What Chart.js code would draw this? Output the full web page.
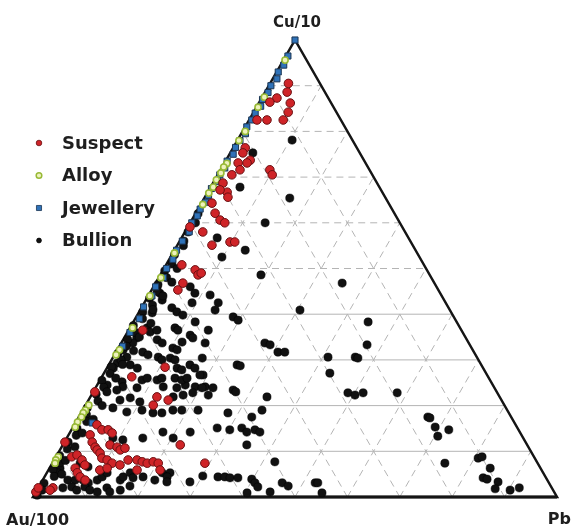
<!DOCTYPE html>
<html>
<head>
<meta charset="utf-8">
<script src="https://cdn.jsdelivr.net/npm/chart.js@4.4.1/dist/chart.umd.min.js"></script>
<style>
  html, body { margin: 0; padding: 0; background: #ffffff; }
  canvas { display: block; }
</style>
</head>
<body>
<canvas id="tern" width="573" height="531"></canvas>
<script>
// Compositions in percent, each point as [Cu/10, Pb]; Au/100 is the remainder.
const vertexLabels = { top: 'Cu/10', left: 'Au/100', right: 'Pb' };
const seriesNames = ['Suspect', 'Alloy', 'Jewellery', 'Bullion'];
const gridSteps = [10, 20, 30, 40, 50, 60, 70, 80, 90];

const suspect = [
  [90.5,3.5],[88.6,4.2],[86.2,6.0],[84.2,6.6],[87.3,2.9],[86.4,2.0],[82.5,3.4],[82.5,6.5],[82.5,1.5],
  [76.4,2.3],[75.3,2.4],[73.7,4.6],[73.1,4.3],[73.1,2.6],[71.6,3.7],[71.6,9.4],[70.5,10.4],[70.5,2.7],
  [68.7,1.9],[66.7,3.7],[65.6,4.4],[67.2,2.1],[64.3,2.0],[62.1,3.7],[60.6,5.4],[60.0,6.6],[58.0,3.4],
  [55.1,6.6],[55.8,9.7],[55.8,10.6],[59.1,0.4],[50.8,3.0],[49.7,6.1],[48.6,7.2],[49.0,7.6],[45.3,5.0],
  [46.8,5.2],[28.4,11.0],[26.3,5.7],[36.5,2.7],
  [23.0,0.3],[21.9,12.7],[20.1,12.9],[21.2,15.2],[12.0,0.1],[13.6,4.1],[15.8,4.3],[14.7,5.8],[14.7,7.0],
  [14.0,8.1],[12.0,5.3],[10.9,6.4],[10.3,7.1],[9.6,8.0],[11.4,9.0],[10.9,10.6],[10.3,11.5],[10.7,12.2],
  [8.8,3.0],[9.2,3.8],[8.1,5.3],[7.0,6.4],[8.5,8.9],[8.1,10.1],[7.4,11.4],[8.1,14.1],[8.1,15.8],
  [7.7,17.0],[7.4,18.1],[7.7,19.1],[7.4,20.2],[5.9,21.3],[6.3,4.9],[5.3,5.8],[4.4,6.8],[3.7,8.1],
  [5.9,9.8],[6.3,11.0],[5.9,16.9],[2.0,2.8],[1.5,2.5],[1.1,0.0],[2.0,0.0],[7.0,13.1],[11.4,22.4],[7.4,29.1]
];

const alloy = [
  [95.6,0.3],[87.5,0.4],[85.3,0.3],[80.0,0.5],[78.0,0.3],[73.0,0.5],[72.2,0.3],[70.9,0.4],[69.4,0.3],
  [67.8,0.5],[66.5,0.3],[64.0,0.4],[53.4,0.3],[48.0,0.4],[44.0,0.3],[37.0,0.5],[32.2,0.4],[31.1,0.3],
  [20.1,0.6],[19.0,0.5],[18.4,0.4],[17.5,0.5],[16.4,0.3],[15.3,0.4],[8.8,0.4],[8.1,0.3],[7.4,0.5]
];

const jewellery = [
  [100,0],[96.5,0.4],[94.5,0.6],[93.0,0.3],[91.5,0.8],[90.0,0.4],[88.5,0.6],[87.0,0.3],[85.5,0.7],
  [84.0,0.4],[82.5,0.5],[81.0,0.3],[79.5,0.8],[78.0,0.5],[76.5,0.4],[75.0,0.7],[73.5,0.3],[72.0,0.6],
  [70.5,0.4],[69.0,0.8],[67.5,0.3],[66.0,0.5],[64.5,0.7],[63.0,0.4],[61.5,0.6],[60.0,0.3],[58.0,0.8],
  [56.0,0.5],[54.0,0.4],[52.0,0.7],[50.0,0.5],[48.0,0.9],[46.0,0.4],[44.0,0.7],[41.6,0.3],[39.0,0.8],
  [36.0,0.5],[33.0,0.6],[16.2,3.2]
];

const bullion = [
  [78.1,10.4],[65.4,16.3],[60.0,14.3],[54.0,13.5],[67.8,5.6],[56.7,6.8],[75.3,4.3],[48.6,19.2],[46.8,35.6],
  [44.2,11.7],[42.5,14.1],[40.9,14.3],[40.9,30.5],[39.4,18.5],[38.7,19.8],[38.3,44.8],[36.5,15.2],[33.7,16.0],
  [33.7,27.4],[33.3,28.6],[31.7,30.9],[31.7,32.2],[30.6,41.0],[30.6,46.2],[30.4,46.8],[33.3,47.1],[28.9,24.5],
  [28.7,25.2],[27.1,43.1],[26.7,19.1],[24.1,20.8],[23.9,22.4],[22.3,22.3],[23.4,26.5],[23.0,27.2],[21.9,33.7],
  [22.8,48.7],[22.3,50.3],[22.8,51.6],[22.8,58.1],[19.0,34.2],[18.4,28.0],[17.5,33.0],[15.1,27.6],[14.7,30.2],
  [15.1,32.3],[14.2,33.7],[14.7,35.0],[14.2,36.2],[11.4,35.1],[7.7,42.3],[4.4,33.1],[4.4,34.4],[4.2,35.5],
  [4.2,37.0],[3.9,39.8],[3.1,40.8],[2.2,41.8],[0.9,40.4],[1.1,44.7],[3.1,46.0],[2.4,47.5],[3.1,52.3],
  [3.1,52.8],[0.9,54.7],[4.6,30.1],[17.5,66.6],[17.3,67.1],[15.3,69.1],[13.3,70.6],[14.7,72.0],[7.4,74.9],
  [8.5,80.7],[8.8,81.3],[6.3,84.1],[4.2,83.8],[3.9,84.7],[3.3,87.1],[1.8,87.3],[1.5,90.3],[2.0,91.8],
  [23.9,15.5],[24.5,16.8],[24.1,18.9],[23.9,20.3],[22.8,19.1],[21.9,15.8],[22.3,17.5],[19.0,18.9],[19.0,22.0],
  [14.2,22.9],[5.3,23.5],[3.3,28.3],
  [52.5,9.8],[46.0,7.0],[44.6,8.6],[42.5,9.1],[41.4,5.8],[40.5,7.2],[44.6,1.9],[43.1,3.1],[46.0,0.7],
  [40.3,2.6],[39.8,8.7],[38.3,11.8],[37.0,3.3],[36.1,4.3],[36.5,5.4],[37.0,8.6],[36.5,9.4],[35.4,12.3],
  [34.8,13.1],[34.8,2.4],[33.7,2.2],[34.4,6.5],[33.7,7.8],[32.6,10.4],[32.2,11.4],[33.9,11.5],[32.2,1.1],
  [30.6,2.6],[31.7,5.1],[31.1,6.4],[30.6,8.6],[30.0,9.6],[30.4,11.0],[30.0,12.1],[28.9,15.5],[28.2,16.8],
  [28.2,13.4],[27.8,14.5],[29.3,1.4],[28.2,1.2],[28.9,4.1],[28.2,5.8],[30.4,17.1],[25.6,8.0],[26.0,8.8],
  [25.6,10.9],[26.0,11.6],[26.0,14.1],[25.6,15.6],[26.0,16.4],[26.7,18.5],[25.2,4.4],[24.1,5.1],
  [24.5,1.9],[23.4,4.3],[23.9,7.9],[24.1,12.8],[21.7,7.7],[20.8,10.0],[21.2,6.0],[19.5,5.5],[18.6,8.6],
  [19.0,11.3],[18.4,13.7],[18.4,15.4],[19.0,17.2],[14.2,17.7],[12.9,14.5],[12.9,20.3],[12.9,8.8],[12.5,10.9],
  [7.4,5.3],[6.6,7.2],[6.3,2.0],[5.3,2.1],[3.7,4.8],[3.7,6.2],[3.7,7.7],[3.1,9.0],[3.7,10.4],
  [4.4,11.0],[5.3,11.5],[3.7,14.8],[4.4,15.0],[5.3,15.9],[4.2,17.0],[2.4,17.3],[4.4,18.8],[3.7,21.4],
  [5.3,22.0],[4.4,23.4],[3.3,23.9],[2.0,4.7],[2.2,6.3],[1.5,7.6],[2.2,8.8],[1.5,10.1],[1.1,11.7],
  [2.0,13.1],[1.1,14.1],[1.5,15.9],[0.4,0.6],
  [62.0,0.5],[60.0,1.0],[58.0,0.6],[56.0,0.8],[55.0,1.2],[53.0,0.5],[51.0,1.0],[49.5,0.4],[48.0,1.5],
  [46.5,0.6],[45.0,1.2],[43.5,0.5],[42.0,1.8],[40.5,0.7],[39.0,1.4],[37.5,0.4],[36.0,1.6],[34.5,0.8],
  [33.0,1.3],[31.5,0.5],[30.0,1.8],[28.5,0.7],[27.0,1.2],[25.5,0.4],[24.0,1.5],[22.5,0.8],[21.0,1.9],
  [19.5,0.6],[18.0,1.2],[16.5,2.0],[15.0,0.9],[13.5,1.5],[12.0,0.7],[10.5,1.3],[9.0,0.6],[7.5,1.4],
  [6.0,0.8],[4.5,1.8],[3.0,0.6],[1.5,1.0],
  [50.0,2.5],[47.0,3.0],[44.0,2.8],[41.0,2.4],[38.0,3.5],[35.0,2.8],[32.0,3.2],[29.0,2.6],[26.0,2.8],
  [23.0,2.6],[20.0,3.2],[17.0,3.0],[14.0,2.4],[11.0,2.5],[8.0,2.2],[5.0,3.0]
];

const H = Math.sqrt(3) / 2;

// [Cu, Pb] percentages -> cartesian position inside a unit-base triangle
function toXY(p) {
  const cu = p[0] / 100, pb = p[1] / 100;
  return { x: pb + cu / 2, y: cu * H };
}

const styles = {
  Suspect:   { pointStyle: 'circle', radius: 4.3, bg: '#cf2428', border: '#6a1012', bw: 1 },
  Alloy:     { pointStyle: 'circle', radius: 3.1, bg: '#eef2bd', border: '#98ba36', bw: 1.6 },
  Jewellery: { pointStyle: 'rect',   radius: 4.3, bg: '#2f72b8', border: '#1b3553', bw: 1 },
  Bullion:   { pointStyle: 'circle', radius: 4.1, bg: '#111111', border: '#000000', bw: 0.5 }
};

const seriesData = { Suspect: suspect, Alloy: alloy, Jewellery: jewellery, Bullion: bullion };

const datasets = seriesNames.map(name => {
  const s = styles[name];
  return {
    label: name,
    data: seriesData[name].map(toXY),
    pointStyle: s.pointStyle,
    pointRadius: s.radius,
    pointBackgroundColor: s.bg,
    pointBorderColor: s.border,
    pointBorderWidth: s.bw,
    showLine: false,
    clip: false
  };
});

// Triangle frame, gridlines, vertex labels and the key
const ternaryFrame = {
  id: 'ternaryFrame',
  beforeDatasetsDraw(chart) {
    const { ctx, scales } = chart;
    const P = (cu, pb) => {
      const q = toXY([cu, pb]);
      return [scales.x.getPixelForValue(q.x), scales.y.getPixelForValue(q.y)];
    };
    const seg = (a, b) => { ctx.beginPath(); ctx.moveTo(a[0], a[1]); ctx.lineTo(b[0], b[1]); ctx.stroke(); };
    ctx.save();
    ctx.lineWidth = 1;
    ctx.strokeStyle = '#b4b4b4';
    gridSteps.forEach(k => {
      ctx.setLineDash([7, 5]);
      // constant Pb (parallel to the Au-Cu side)
      seg(P(0, k), P(100 - k, k));
      // constant Au (parallel to the Cu-Pb side)
      seg(P(0, 100 - k), P(100 - k, 0));
      // constant Cu (horizontal)
      ctx.setLineDash(k >= 50 ? [7, 5] : []);
      seg(P(k, 0), P(k, 100 - k));
    });
    ctx.setLineDash([]);
    ctx.strokeStyle = '#151515';
    ctx.lineWidth = 2.5;
    ctx.lineJoin = 'miter';
    const a = P(0, 0), b = P(0, 100), c = P(100, 0);
    ctx.beginPath();
    ctx.moveTo(a[0], a[1]); ctx.lineTo(b[0], b[1]); ctx.lineTo(c[0], c[1]); ctx.closePath();
    ctx.stroke();
    ctx.lineWidth = 3;
    seg(a, b);
    ctx.restore();
  },
  afterDraw(chart) {
    const { ctx, scales } = chart;
    const P = (cu, pb) => {
      const q = toXY([cu, pb]);
      return [scales.x.getPixelForValue(q.x), scales.y.getPixelForValue(q.y)];
    };
    ctx.save();
    ctx.fillStyle = '#1e1e1e';
    ctx.textBaseline = 'alphabetic';
    const top = P(100, 0), left = P(0, 0), right = P(0, 100);
    ctx.font = 'bold 15px "DejaVu Sans"';
    ctx.textAlign = 'center';
    ctx.fillText(vertexLabels.top, top[0] + 2, top[1] - 13);
    ctx.font = 'bold 16px "DejaVu Sans"';
    ctx.textAlign = 'left';
    ctx.fillText(vertexLabels.left, 6, left[1] + 28);
    ctx.textAlign = 'right';
    ctx.fillText(vertexLabels.right, 571, right[1] + 27);

    // key
    const rows = [143, 175.5, 208, 240.5];
    const markerSize = { Suspect: 2.8, Alloy: 2.8, Jewellery: 3.6, Bullion: 2.4 };
    ctx.font = 'bold 18px "DejaVu Sans"';
    ctx.textAlign = 'left';
    ctx.textBaseline = 'middle';
    seriesNames.forEach((name, i) => {
      const s = styles[name];
      const y = rows[i], x = 39;
      ctx.fillStyle = s.bg;
      ctx.strokeStyle = s.border;
      ctx.lineWidth = name === 'Alloy' ? 1.5 : 0.8;
      Chart.helpers.drawPoint(ctx, { pointStyle: s.pointStyle, radius: markerSize[name], borderWidth: ctx.lineWidth }, x, y);
      ctx.fillStyle = '#1e1e1e';
      ctx.fillText(name, 62, y + 1);
    });
    ctx.restore();
  }
};

new Chart(document.getElementById('tern'), {
  type: 'scatter',
  data: { datasets },
  options: {
    responsive: false,
    animation: false,
    devicePixelRatio: 1,
    layout: { padding: { left: 33, right: 16, top: 40, bottom: 34 } },
    scales: {
      x: { type: 'linear', min: 0, max: 1, display: false },
      y: { type: 'linear', min: 0, max: H, display: false }
    },
    plugins: {
      legend: { display: false },
      tooltip: { enabled: false }
    },
    events: []
  },
  plugins: [ternaryFrame]
});
</script>
</body>
</html>
